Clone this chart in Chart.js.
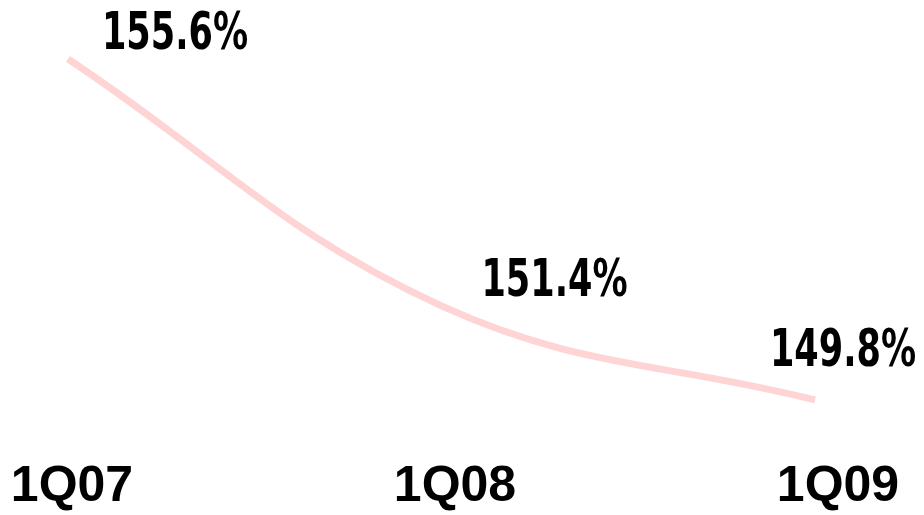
<!DOCTYPE html>
<html>
<head>
<meta charset="utf-8">
<script src="https://cdn.jsdelivr.net/npm/chart.js@4.4.1/dist/chart.umd.min.js"></script>
<style>
    html, body { margin: 0; padding: 0; background: #ffffff; }
    #wrap { position: relative; width: 924px; height: 515px; }
</style>
</head>
<body>
<div id="wrap"><canvas id="ratioChart"></canvas></div>
<script>
// Dados do gráfico
const quarters = ['1Q07', '1Q08', '1Q09'];
const ratioValues = [155.6, 151.4, 149.8];
const ratioLabels = ['155.6%', '151.4%', '149.8%'];

// Rótulos de valor desenhados junto a cada ponto (texto esticado na vertical como no original)
const valueLabelPlugin = {
    id: 'valueLabels',
    afterDatasetsDraw(chart, args, opts) {
        const ctx = chart.ctx;
        const meta = chart.getDatasetMeta(0);
        ctx.save();
        ctx.font = opts.font;
        ctx.fillStyle = opts.color;
        ctx.textAlign = 'center';
        ctx.textBaseline = 'middle';
        meta.data.forEach((pt, i) => {
            const off = opts.offsets[i];
            ctx.save();
            ctx.translate(pt.x + off[0], pt.y + off[1]);
            ctx.scale(1, opts.stretch);
            ctx.fillText(ratioLabels[i], 0, 0);
            ctx.restore();
        });
        ctx.restore();
    }
};

const canvas = document.getElementById('ratioChart');

new Chart(canvas.getContext('2d'), {
    type: 'line',
    data: {
        labels: quarters,
        datasets: [{
            data: ratioValues.map((v, i) => ({ x: i, y: v })),
            xAxisID: 'xLine',
            yAxisID: 'y',
            borderColor: '#FFD4D4',
            borderWidth: 7,
            tension: 0.4,
            pointRadius: 0,
            fill: false,
            clip: false
        }]
    },
    options: {
        responsive: true,
        maintainAspectRatio: false,
        animation: false,
        layout: {
            padding: { left: 72, right: 86, top: 0, bottom: 3 }
        },
        plugins: {
            legend: { display: false },
            tooltip: { enabled: false },
            valueLabels: {
                font: 'bold 39px "DejaVu Sans Condensed", "DejaVu Sans", sans-serif',
                color: '#000000',
                stretch: 1.34,
                offsets: [[107, -23.2], [113, -23.5], [28, -47.5]]
            }
        },
        scales: {
            x: {
                type: 'category',
                min: 0,
                max: quarters.length - 1,
                offset: false,
                grid: { display: false, drawTicks: false },
                border: { display: false },
                ticks: {
                    color: '#000000',
                    padding: 0,
                    maxRotation: 0,
                    autoSkip: false,
                    font: { family: '"Liberation Sans", Arial, sans-serif', size: 50, weight: 'bold', lineHeight: 1 }
                }
            },
            // eixo oculto só para posicionar a linha
            xLine: {
                type: 'linear',
                display: false,
                min: 0.0107,
                max: 2.0616
            },
            y: {
                display: false,
                min: 148.745,
                max: 156.604
            }
        }
    },
    plugins: [valueLabelPlugin]
});
</script>
</body>
</html>
